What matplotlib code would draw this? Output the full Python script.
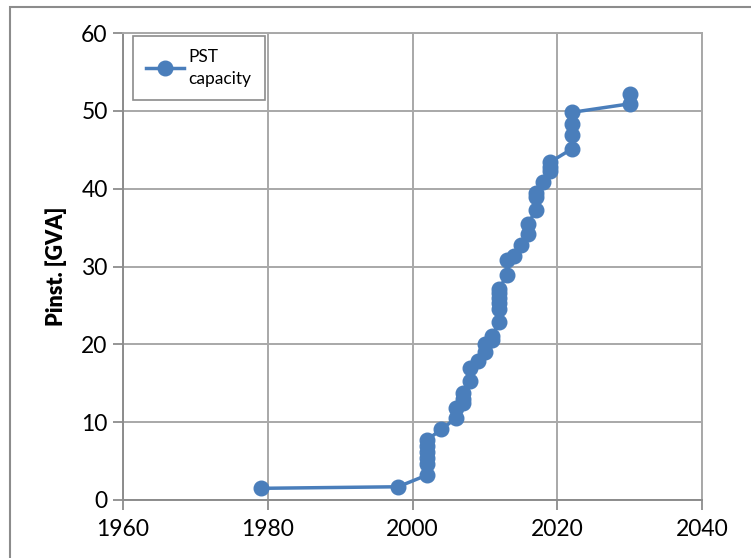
import matplotlib
matplotlib.use("Agg")
import matplotlib.pyplot as plt
from matplotlib.patches import Rectangle

plt.rcParams['font.family'] = ['Lato', 'DejaVu Sans']

# Installed PST capacity over time (cumulative)
years = [1979, 1998,
         2002, 2002, 2002, 2002, 2002, 2002,
         2004, 2006, 2006, 2007, 2007, 2007, 2008, 2008, 2009,
         2010, 2010, 2011, 2011,
         2012, 2012, 2012, 2012, 2012, 2012,
         2013, 2013, 2014, 2015, 2016, 2016,
         2017, 2017, 2017, 2018, 2019, 2019, 2019,
         2022, 2022, 2022, 2022, 2030, 2030]
capacity = [1.5, 1.7,
            3.2, 4.6, 5.4, 6.2, 7.0, 7.7,
            9.1, 10.5, 11.8, 12.5, 13.0, 13.7, 15.3, 17.0, 17.9,
            19.0, 20.0, 20.6, 21.1,
            22.9, 24.5, 25.3, 26.0, 26.6, 27.1,
            28.9, 30.8, 31.4, 32.8, 34.2, 35.5,
            37.2, 38.9, 39.4, 40.9, 42.3, 42.8, 43.4,
            45.1, 46.9, 48.3, 49.8, 50.9, 52.1]

x_ticks = [1960, 1980, 2000, 2020, 2040]
y_ticks = [0, 10, 20, 30, 40, 50, 60]

blue = '#4a7ebb'
grid_c = '#a8a8a8'

fig = plt.figure(figsize=(7.51, 5.58), dpi=100)
fig.patch.set_facecolor('white')

# outer chart frame
fig.patches.append(Rectangle((10 / 751, -0.1), 1.2, 1 - 7 / 558 + 0.1,
                             transform=fig.transFigure, fill=False,
                             edgecolor='#8c8c8c', linewidth=1.5))

ax = fig.add_axes([123 / 751, 1 - 500 / 558, (702 - 123) / 751, (500 - 33) / 558])
ax.plot(years, capacity, color=blue, linewidth=2.5, marker='o',
        markersize=10.5, markerfacecolor=blue, markeredgecolor=blue,
        label='PST\ncapacity', zorder=3)

ax.set_xlim(1960, 2040)
ax.set_ylim(0, 60)
ax.set_xticks(x_ticks)
ax.set_yticks(y_ticks)
ax.grid(True, color=grid_c, linewidth=1.4)
ax.set_axisbelow(True)
for s in ax.spines.values():
    s.set_color(grid_c)
    s.set_linewidth(1.4)
ax.spines['left'].set_color('#8c8c8c')
ax.spines['bottom'].set_color('#8c8c8c')
ax.tick_params(axis='both', direction='out', length=7, width=1.3,
               color='#8c8c8c', labelsize=16.5, pad=4)
ax.tick_params(axis='x', pad=7)
ax.set_ylabel('Pinst. [GVA]', fontsize=15.5, fontweight='heavy', labelpad=10)

leg = ax.legend(loc='upper left', bbox_to_anchor=(10 / 579, 1 - 3 / 467),
                fontsize=12.5, frameon=True, fancybox=False,
                handlelength=2.2, borderpad=0.75, handletextpad=0.25,
                borderaxespad=0)
leg.get_texts()[0].set_linespacing(1.45)
leg.get_frame().set_edgecolor('#6e6e6e')
leg.get_frame().set_linewidth(1.2)

fig.savefig('out.png', dpi=100, facecolor='white')
